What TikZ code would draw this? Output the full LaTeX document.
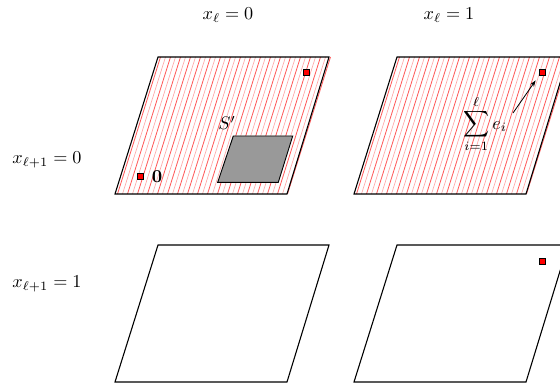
\documentclass[tikz,border=0pt]{standalone}
\usetikzlibrary{arrows.meta}
\begin{document}
\begin{tikzpicture}[x=0.55pt,y=-0.55pt,
  plane/.style={draw=black, line width=0.6pt},
  hatchA/.style={red!65, line width=0.45pt},
  hatchB/.style={red!35, line width=0.35pt},
  pt/.style={draw=black, fill=red, minimum size=3.3pt, inner sep=0pt, line width=0.3pt},
  lab/.style={inner sep=0pt},
  sq/.style={draw=black, fill=black!40, line width=0.5pt},
  arr/.style={-{Stealth[length=3.5pt,width=2.5pt]}, line width=0.45pt}]
\useasboundingbox (0,0) rectangle (560,383);
\clip (0,0) rectangle (560,383);
% column / row labels
\node[lab] (c0) at (228,15) {$x_\ell = 0$};
\node[lab] (c1) at (449,15) {$x_\ell = 1$};
\node[lab] (r0) at (47,160) {$x_{\ell+1} = 0$};
\node[lab] (r1) at (47,284) {$x_{\ell+1} = 1$};
% hatched planes (top row)
\foreach \dx in {0,239}{
  \begin{scope}[xshift=\dx*0.55pt]
    \foreach \i in {0,2,...,34}{
      \draw[hatchA] (117.5+5*\i,194) -- ++(43,-137);
    }
    \foreach \i in {1,3,...,33}{
      \draw[hatchB] (117.5+5*\i,194) -- ++(43,-137);
    }
    \draw[plane] (115,194) -- (287,194) -- (329,57) -- (158,57) -- cycle;
  \end{scope}
}
% plain planes (bottom row)
\foreach \dx in {0,239}{
  \draw[plane] (115+\dx,382) -- (287+\dx,382) -- (329+\dx,245) -- (158+\dx,245) -- cycle;
}
% S' region
\draw[sq] (217.7,182.3) -- (278.3,182.3) -- (292.7,136) -- (233.3,136) -- cycle;
\node[lab] (S) at (227,123) {$S'$};
% points
\node[pt] (p0) at (140.7,176.7) {};
\node[lab] (zero) at (157,177) {$\mathbf{0}$};
\node[pt] (p1) at (306.7,72.7) {};
\node[pt] (p2) at (542,72.7) {};
\node[pt] (p3) at (542,261) {};
% sum label and arrow
\node[lab] (sum) at (485,124) {$\displaystyle\sum_{i=1}^{\ell} e_i$};
\coordinate (astart) at (513,113);
\draw[arr, shorten >=3pt] (astart) -- (p2.south west);
\end{tikzpicture}
\end{document}
